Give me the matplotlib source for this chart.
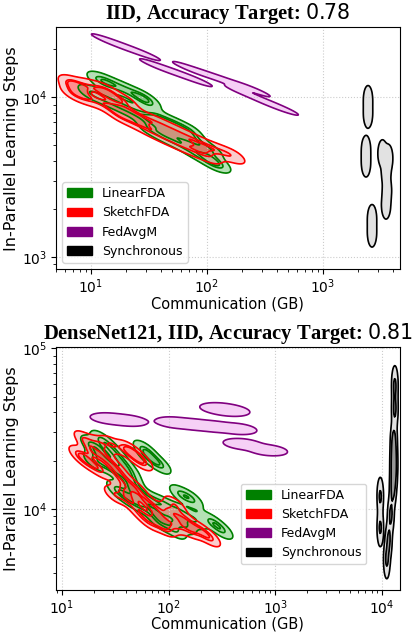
import matplotlib

matplotlib.use("Agg")
import matplotlib.pyplot as plt
import numpy as np
from matplotlib.colors import to_rgb
from matplotlib.patches import Patch

ALGOS = ["LinearFDA", "SketchFDA", "FedAvgM", "Synchronous"]
COLORS = ["green", "red", "purple", "black"]
FILL_TINTS = ["#82cd82", "#f7acac", "#f0b1f0", "#cfcfcf"]

# top panel: IID, target 0.78  (communication GB, in-parallel steps)
TOP_LINEAR_COMM = [11.8, 14.6, 19.6, 26.5, 31.0, 9.8, 13.2, 17.8, 24.0, 32.3, 43.4, 58.5, 78.8, 106,
                   32.3, 43.4, 58.5, 78.8, 106, 125, 39.3, 53.0, 71.4]
TOP_LINEAR_STEPS = [12900, 12230, 11220, 10150, 9400, 10750, 9860, 8910, 8060, 7390, 6590, 5960, 5310, 4670,
                    6400, 5710, 5160, 4530, 4040, 3800, 7390, 6780, 6130]
TOP_SKETCH_COMM = [6.8, 7.7, 9.8, 13.2, 7.0, 8.9, 12.0, 16.1, 21.7, 29.2, 39.3, 53.0, 71.4, 96.1, 129, 170,
                   17.8, 24.0, 32.3, 43.4, 58.5, 78.8, 106, 14.6, 19.6]
TOP_SKETCH_STEPS = [12200, 11720, 11720, 11060, 10650, 10000, 9310, 8540, 8060, 7390, 6780, 6130, 5540, 5010, 4600, 4280,
                    7720, 6980, 6220, 5620, 5090, 4670, 4280, 10290, 9440]
TOP_FEDAVGM_COMM = [15.2, 19.6, 26.5, 39.3, 54.1, 74.3, 75.7, 106, 152, 235, 213, 316, 409]
TOP_FEDAVGM_STEPS = [22160, 20720, 19140, 15500, 14300, 13150, 14900, 13750, 12600, 11350, 10650, 9430, 8710]
TOP_SYNC_COMM = [2443, 2443, 2348, 2348, 3250, 3650, 3492, 3562, 3492, 2645, 2645]
TOP_SYNC_STEPS = [9720, 7830, 4730, 3870, 4450, 4160, 3400, 2620, 2110, 1750, 1410]

# bottom panel: DenseNet121, IID, target 0.81
BOT_LINEAR_COMM = [19.1, 23.7, 22.7, 29.4, 27.0, 35.0, 33.5, 41.6, 45.3, 20.4, 66.8, 82.9, 60.0,
                   33.5, 41.6, 53.8, 53.8, 69.7, 74.4, 92.3, 102.8, 127.6, 142.2, 176.4, 114.6, 82.9, 45.3,
                   130, 165, 254.6, 315.9]
BOT_LINEAR_STEPS = [25120, 26990, 21750, 23380, 18840, 20240, 17030, 17530, 15180, 19670, 20830, 18840, 23380,
                    13150, 11720, 12230, 10590, 11380, 9580, 10590, 8790, 9580, 7940, 8540, 7390, 8300, 13530,
                    12300, 11500, 8300, 7390]
BOT_SKETCH_COMM = [16.4, 19.1, 17.5, 22.7, 25.3, 31.4, 36.5, 22.7, 29.4, 14.75, 48.3, 56.2, 41.6,
                   31.4, 38.9, 43.4, 53.8, 60.0, 74.4, 82.9, 102.8, 114.6, 142.2, 158.3, 196.6, 243.9,
                   66.8, 92.3, 114.6, 48.3]
BOT_SKETCH_STEPS = [26990, 22720, 19670, 25120, 20830, 18040, 15630, 17530, 25120, 21750, 21750, 19670, 23380,
                    12230, 13150, 11380, 9580, 11380, 9860, 8540, 9580, 7940, 8540, 7390, 7390, 6590,
                    8300, 7610, 10590, 13530]
BOT_FEDAVGM_COMM = [28.2, 41.6, 114.6, 176.4, 271.6, 440, 302.6, 375.4, 497, 852]
BOT_FEDAVGM_STEPS = [36520, 35480, 34470, 33500, 32550, 31500, 42170, 40980, 25300, 23200]
BOT_SYNC_COMM = [13210, 13210, 12930, 12930, 12650, 12120, 11600, 11110, 12930, 12930, 9650, 9650]
BOT_SYNC_STEPS = [59570, 41570, 26990, 18840, 13150, 9170, 6400, 4800, 21750, 16310, 12000, 7600]

TOP_DATA = {
    "LinearFDA": (TOP_LINEAR_COMM, TOP_LINEAR_STEPS),
    "SketchFDA": (TOP_SKETCH_COMM, TOP_SKETCH_STEPS),
    "FedAvgM": (TOP_FEDAVGM_COMM, TOP_FEDAVGM_STEPS),
    "Synchronous": (TOP_SYNC_COMM, TOP_SYNC_STEPS),
}
BOT_DATA = {
    "LinearFDA": (BOT_LINEAR_COMM, BOT_LINEAR_STEPS),
    "SketchFDA": (BOT_SKETCH_COMM, BOT_SKETCH_STEPS),
    "FedAvgM": (BOT_FEDAVGM_COMM, BOT_FEDAVGM_STEPS),
    "Synchronous": (BOT_SYNC_COMM, BOT_SYNC_STEPS),
}

# kernel shape in log10 space: (sd of log comm, sd of log steps, correlation), and contour count
TOP_KDE = {
    "LinearFDA": ((0.077, 0.037, -0.66), 4),
    "SketchFDA": ((0.077, 0.037, -0.66), 4),
    "FedAvgM": ((0.0965, 0.0283, -0.949), 2),
    "Synchronous": ((0.020, 0.044, 0.0), 2),
}
BOT_KDE = {
    "LinearFDA": ((0.070, 0.039, -0.69), 4),
    "SketchFDA": ((0.070, 0.039, -0.69), 4),
    "FedAvgM": ((0.094, 0.018, -0.3), 2),
    "Synchronous": ((0.017, 0.065, 0.0), 3),
}
THRESH = 0.08


def kde_grid(comm, steps, kernel, gx, gy):
    sx, sy, rho = kernel
    cov = np.array([[sx * sx, rho * sx * sy], [rho * sx * sy, sy * sy]])
    inv = np.linalg.inv(cov)
    X, Y = np.meshgrid(gx, gy)
    dens = np.zeros_like(X)
    for a, b in zip(np.log10(comm), np.log10(steps)):
        dx, dy = X - a, Y - b
        dens += np.exp(-0.5 * (inv[0, 0] * dx * dx + 2 * inv[0, 1] * dx * dy + inv[1, 1] * dy * dy))
    return X, Y, dens


def iso_levels(dens, props):
    vals = np.sort(dens.ravel())[::-1]
    cum = np.cumsum(vals) / vals.sum()
    idx = np.searchsorted(cum, 1 - np.asarray(props))
    return np.take(vals, idx, mode="clip")


def band_colors(tint, color, n):
    a = np.array(to_rgb(tint))
    b = np.array(to_rgb(color))
    mixes = np.linspace(0, 0.6, n) if n > 1 else [0]
    return [tuple((1 - m) * a + m * b) for m in mixes]


def draw_panel(ax, data, kde, title, target, xlim, ylim, legend_kw):
    ax.set_xscale("log")
    ax.set_yscale("log")
    gx = np.linspace(np.log10(xlim[0]), np.log10(xlim[1]), 450)
    gy = np.linspace(np.log10(ylim[0]), np.log10(ylim[1]), 450)
    grids = {}
    for algo, color, tint in zip(ALGOS, COLORS, FILL_TINTS):
        comm, steps = data[algo]
        kernel, n = kde[algo]
        X, Y, dens = kde_grid(comm, steps, kernel, gx, gy)
        levels = iso_levels(dens, np.linspace(THRESH, 1, n))
        grids[algo] = (10 ** X, 10 ** Y, dens, levels)
        ax.contourf(10 ** X, 10 ** Y, dens, levels=levels,
                    colors=band_colors(tint, color, n - 1), alpha=0.6, zorder=1)
    for algo, color in zip(ALGOS, COLORS):
        X, Y, dens, levels = grids[algo]
        ax.contour(X, Y, dens, levels=levels[:-1], colors=[color], linewidths=1.2, zorder=2)
    ax.set_xlim(*xlim)
    ax.set_ylim(*ylim)
    ax.grid(True, which="major", linestyle=":", color="#cccccc", linewidth=0.8)
    ax.set_xlabel("Communication (GB)", fontsize=10.5, labelpad=0)
    ax.set_ylabel("In-Parallel Learning Steps", fontsize=11.5, labelpad=2)
    ax.tick_params(labelsize=10, pad=2.5)
    ax.set_title(f"{title}, Accuracy Target: ${target}$", fontfamily="Liberation Serif",
                 fontweight="bold", fontsize=14.8, pad=6)
    handles = [Patch(facecolor=c, edgecolor=c, label=a) for a, c in zip(ALGOS, COLORS)]
    ax.legend(handles=handles, fontsize=9, **legend_kw)


def main() -> int:
    fig = plt.figure(figsize=(4.14, 6.32), dpi=100)
    ax_top = fig.add_axes([0.135, 0.574, 0.831, 0.383])
    ax_bot = fig.add_axes([0.135, 0.0665, 0.831, 0.3845])
    draw_panel(ax_top, TOP_DATA, TOP_KDE, "IID", "0.78", (5.0, 4600), (840, 27500),
               dict(loc="lower left"))
    draw_panel(ax_bot, BOT_DATA, BOT_KDE, "DenseNet121, IID", "0.81", (8.8, 14750), (3120, 102000),
               dict(loc="lower right", bbox_to_anchor=(0.92, 0.08)))
    fig.savefig("out.png", dpi=100)
    return 0


if __name__ == "__main__":
    raise SystemExit(main())
